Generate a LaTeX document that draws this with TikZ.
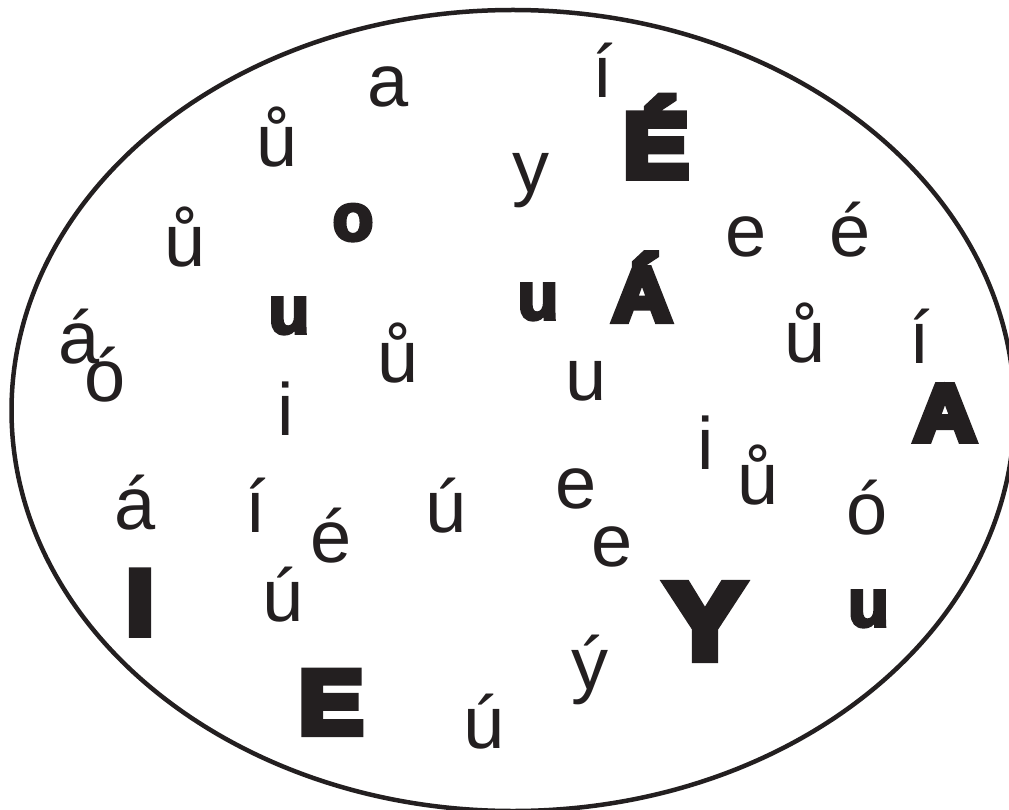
\documentclass[tikz,border=0pt]{standalone}
\usepackage{fontspec}
\setmainfont{Liberation Sans}
\newfontfamily\heavyfont[FakeBold=5]{Liberation Sans Bold}
\newfontfamily\blackfont[FakeBold=9,FakeStretch=1.08]{Liberation Sans Bold}
\definecolor{ink}{RGB}{35,31,32}

\begin{document}
\begin{tikzpicture}[x=1pt, y=-1pt, ink,
  lc/.style={inner sep=0pt, anchor=base, font=\fontsize{74}{74}\selectfont},
  hv/.style={inner sep=0pt, anchor=base, font=\heavyfont\fontsize{67}{67}\selectfont},
  cap/.style={inner sep=0pt, anchor=base, font=\blackfont\fontsize{#1}{#1}\selectfont}]
\useasboundingbox (0,0) rectangle (1009,810);
\begin{scope}
\clip (0,0) rectangle (1009,810);
\draw[line width=4.5pt] (513,410.5) ellipse [x radius=501.5, y radius=400.5];
\end{scope}
% top half
\node[lc] (a1) at (388,107) {a};
\node[lc] (i1) at (603,98) {í};
\node[lc] (uu1) at (277,167) {ů};
\node[cap=90.6] (bigE1) at (656,176.9) {É};
\node[lc] (y1) at (531,193) {y};
\node[hv] (bo1) at (353,240.3) {o};
\node[lc] (uu2) at (185,267) {ů};
\node[lc] (e1) at (746,257) {e};
\node[lc] (e2) at (850,257) {é};
\node[hv] (bu1) at (289,333.3) {u};
\node[hv] (bu2) at (538,319.3) {u};
\node[cap=75.7] (bigA1) at (642,320.6) {Á};
\node[lc] (a2) at (79,363) {á};
\node[lc] (o1) at (105,401) {ó};
\node[lc] (uu3) at (398,382) {ů};
\node[lc] (uu4) at (805,362) {ů};
\node[lc] (i2) at (919.5,363) {í};
\node[lc] (u1) at (586,400) {u};
\node[lc] (i3) at (286,435) {i};
\node[cap=79.4] (bigA2) at (945,440.4) {A};
% bottom half
\node[lc] (i4) at (705.5,469) {i};
\node[lc] (uu5) at (758,504) {ů};
\node[lc] (a3) at (135,529) {á};
\node[lc] (i5) at (256,532) {í};
\node[lc] (e3) at (331,562) {é};
\node[lc] (u2) at (446,532) {ú};
\node[lc] (e4) at (576,508) {e};
\node[lc] (e5) at (612,566) {e};
\node[lc] (o2) at (867,534) {ó};
\node[cap=90.6] (bigI) at (140,633.9) {I};
\node[lc] (u3) at (283,621) {ú};
\node[cap=106.7] (bigY) at (705,658.2) {Y};
\node[hv] (bu3) at (868.5,626.3) {u};
\node[lc] (y2) at (590,689) {ý};
\node[cap=89.3] (bigE2) at (331,733) {E};
\node[lc] (u4) at (484,748) {ú};
\end{tikzpicture}
\end{document}
